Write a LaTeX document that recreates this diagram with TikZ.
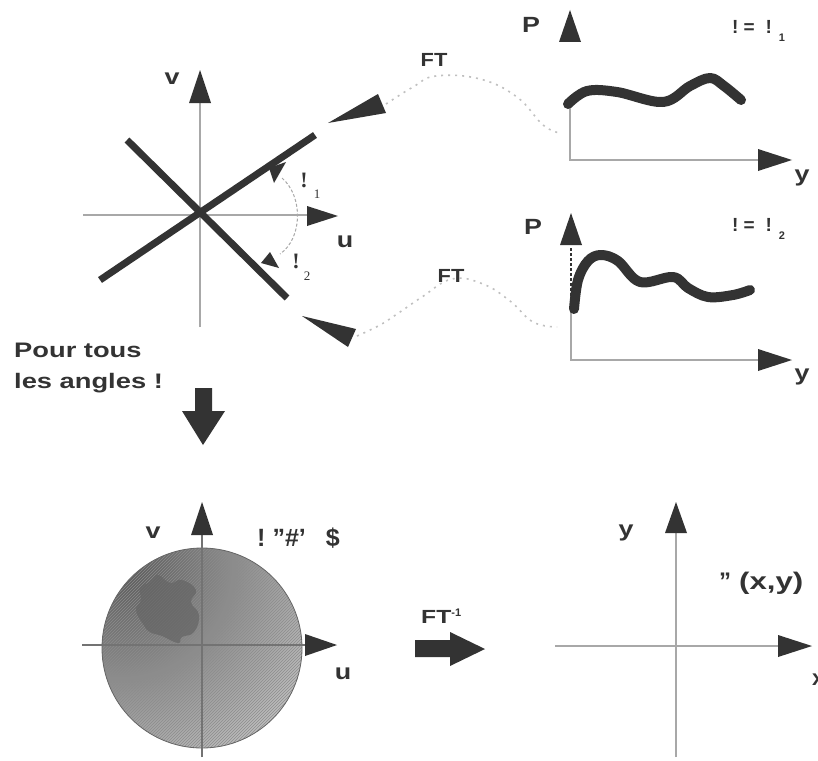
\documentclass[tikz,border=0pt]{standalone}
\usepackage{fontspec}
\setmainfont{Liberation Sans}
\newfontfamily\serifb{Liberation Serif}
\usetikzlibrary{patterns}
\definecolor{dk}{HTML}{333333}
\definecolor{ax}{HTML}{A8A8A8}
\definecolor{dotc}{HTML}{C0C0C0}
\newcommand{\wide}[2][1.22]{\scalebox{#1}[1]{#2}}
\begin{document}
\begin{tikzpicture}[x=1pt,y=-1pt,
  axis/.style={draw=ax, line width=1.3pt},
  head/.style={fill=dk},
  thick line/.style={draw=dk, line width=7pt},
  curve/.style={draw=dk, line width=10pt, line cap=round, line join=round},
  conn/.style={draw=dotc, line width=1.6pt, dash pattern=on 2pt off 5pt},
  lbl/.style={font=\fontsize{22}{26}\bfseries\selectfont, text=dk, inner sep=0pt},
  sml/.style={font=\fontsize{19}{22}\bfseries\selectfont, text=dk, inner sep=0pt},
  ser/.style={font=\fontsize{22}{24}\serifb\bfseries\selectfont, text=dk, inner sep=0pt},
  sersub/.style={font=\fontsize{13}{14}\serifb\selectfont, text=dk, inner sep=0pt},
  block/.style={fill=dk}
]
\useasboundingbox (0,0) rectangle (818,760);
\fill[white] (0,0) rectangle (818,760);

% ===== top-left: lines in Fourier plane =====
\draw[axis] (83,215) -- (307,215);
\fill[head] (338,216) -- (307,206) -- (307,226) -- cycle;
\draw[axis] (200,327) -- (200,103);
\fill[head] (200,70) -- (189,103) -- (211,103) -- cycle;
\node[lbl] (v1) at (172,79) {\wide{v}};
\node[lbl] (u1) at (345,242) {\wide{u}};

\coordinate (l1a) at (100,280); \coordinate (l1b) at (315,135);
\coordinate (l2a) at (127,140); \coordinate (l2b) at (287,298);
\draw[thick line] (l1a) -- (l1b);
\draw[thick line] (l2a) -- (l2b);

% small arrowheads on the lines
\fill[head] (286,162) -- (269,168) -- (274,183) -- cycle;
\fill[head] (279,268) -- (270,252) -- (261,263) -- cycle;
% angle arc
\coordinate (arcA) at (282,178); \coordinate (arcB) at (280,254);
\draw[draw=ax, line width=1pt, dash pattern=on 3pt off 2pt] (arcA) .. controls (303,196) and (303,238) .. (arcB);
\node[ser] (t1) at (304,180) {!};
\node[sersub] (t1s) at (317,194) {1};
\node[ser] (t2) at (296,261) {!};
\node[sersub] (t2s) at (307,276) {2};

% ===== connector arrowheads and FT curves =====
\coordinate (h1tip) at (328,123); \coordinate (h1back) at (386,104);
\fill[head] (h1tip) -- (378,94) -- (386,113) -- cycle;
\coordinate (h2tip) at (302,316); \coordinate (h2back) at (357,336);
\fill[head] (h2tip) -- (356,329) -- (348,347) -- cycle;

\coordinate (p1in) at (560,133);
\coordinate (p2in) at (557,327);
\draw[conn] plot[smooth, tension=0.7] coordinates {(h1back) (413,87) (436,76) (480,79) (517,97) (543,125) (p1in)};
\draw[conn] plot[smooth, tension=0.7] coordinates {(h2back) (380,325) (400,312) (422,297) (452,279) (483,284) (510,301) (533,322) (p2in)};
\node[sml] (ft1) at (434,60) {\wide[1.15]{FT}};
\node[sml] (ft2) at (451,276) {\wide[1.15]{FT}};

% ===== top-right plot 1 =====
\coordinate (o1) at (570,160);
\draw[axis] (570,107) -- (o1) -- (758,160);
\fill[head] (792,160) -- (758,149) -- (758,171) -- cycle;
\fill[head] (570,10) -- (559,42) -- (581,42) -- cycle;
\node[lbl] (P1) at (531,25) {\wide{P}};
\node[sml, anchor=west] (th1) at (732,31) {!\hspace{5pt}=\hspace{11pt}!\hspace{7pt}\raisebox{-8pt}{\fontsize{11}{11}\selectfont 1}};
\node[lbl] (y1) at (802,178) {\wide{y}};
\draw[curve] plot[smooth, tension=0.6] coordinates {(568,104) (587,91) (617,92) (663,102) (690,86) (710,78) (724,86) (741,100)};

% ===== top-right plot 2 =====
\coordinate (o2) at (571,360);
\draw[draw=dk, line width=1.2pt, dash pattern=on 3pt off 2pt] (571,248) -- (571,300);
\draw[axis] (571,300) -- (o2) -- (758,360);
\fill[head] (792,360) -- (758,349) -- (758,371) -- cycle;
\fill[head] (571,213) -- (560,245) -- (582,245) -- cycle;
\node[lbl] (P2) at (533,227) {\wide{P}};
\node[sml, anchor=west] (th2) at (732,229) {!\hspace{5pt}=\hspace{11pt}!\hspace{7pt}\raisebox{-8pt}{\fontsize{11}{11}\selectfont 2}};
\node[lbl] (y2) at (802,377) {\wide{y}};
\draw[curve] plot[smooth, tension=0.6] coordinates {(574,309) (578,280) (588,261) (601,255) (618,261) (640,282) (673,277) (688,288) (708,297) (733,295) (750,290)};

% ===== text and down arrow =====
\node[lbl, anchor=west, font=\fontsize{21}{24}\bfseries\selectfont] (pour) at (14,350) {\wide[1.3]{Pour tous}};
\node[lbl, anchor=west, font=\fontsize{21}{24}\bfseries\selectfont] (angles) at (14,383) {\wide[1.3]{les angles !}};
\fill[block] (195,388) -- (212,388) -- (212,411) -- (225,411) -- (203,445) -- (182,411) -- (195,411) -- cycle;

% ===== bottom-left disk =====
\coordinate (c) at (202,648);
\begin{scope}
  \clip (c) circle (100);
  \fill[gray!50] (c) circle (100);
  \shade[inner color=black!66, outer color=black!14] (120,565) circle (280);
  \fill[pattern=north east lines, pattern color=black!45] (c) circle (100);
  \fill[black!60, opacity=0.75] plot[smooth cycle, tension=0.8] coordinates {(140,588) (150,582) (158,575) (170,583) (182,580) (196,590) (191,602) (199,615) (194,632) (182,637) (178,643) (162,636) (150,632) (143,624) (136,610) (141,600)};
\end{scope}
\draw[black!60, line width=0.8pt] (c) circle (100);
\draw[draw=black!55, line width=1.1pt] (82,645) -- (305,645);
\fill[head] (337,645) -- (305,634) -- (305,656) -- cycle;
\draw[draw=black!55, line width=1.1pt] (202,757) -- (202,535);
\fill[head] (202,502) -- (191,535) -- (213,535) -- cycle;
\node[lbl] (v2) at (153,533) {\wide{v}};
\node[lbl] (u2) at (343,674) {\wide{u}};
\node[lbl, anchor=west, font=\fontsize{25}{28}\bfseries\selectfont] (pol) at (257,538) {!\hspace{7pt}"\#'\hspace{20pt}\$};

% ===== FT^-1 arrow =====
\fill[block] (415,640) -- (450,640) -- (450,632) -- (485,649) -- (450,666) -- (450,657) -- (415,657) -- cycle;
\node[sml, anchor=west] (fti) at (421,616) {\wide[1.3]{FT}\raisebox{7pt}{\fontsize{11}{11}\selectfont -1}};

% ===== bottom-right axes =====
\draw[axis] (555,646) -- (778,646);
\fill[head] (812,646) -- (778,635) -- (778,657) -- cycle;
\draw[axis] (676,757) -- (676,533);
\fill[head] (676,502) -- (665,533) -- (687,533) -- cycle;
\node[lbl] (y3) at (626,533) {\wide{y}};
\node[lbl, anchor=west, font=\fontsize{24}{28}\bfseries\selectfont] (img) at (719,583) {"\hspace{8pt}\wide[1.3]{(x,y)}};
\node[lbl, anchor=west] (x3) at (812,680) {x};
\end{tikzpicture}
\end{document}
